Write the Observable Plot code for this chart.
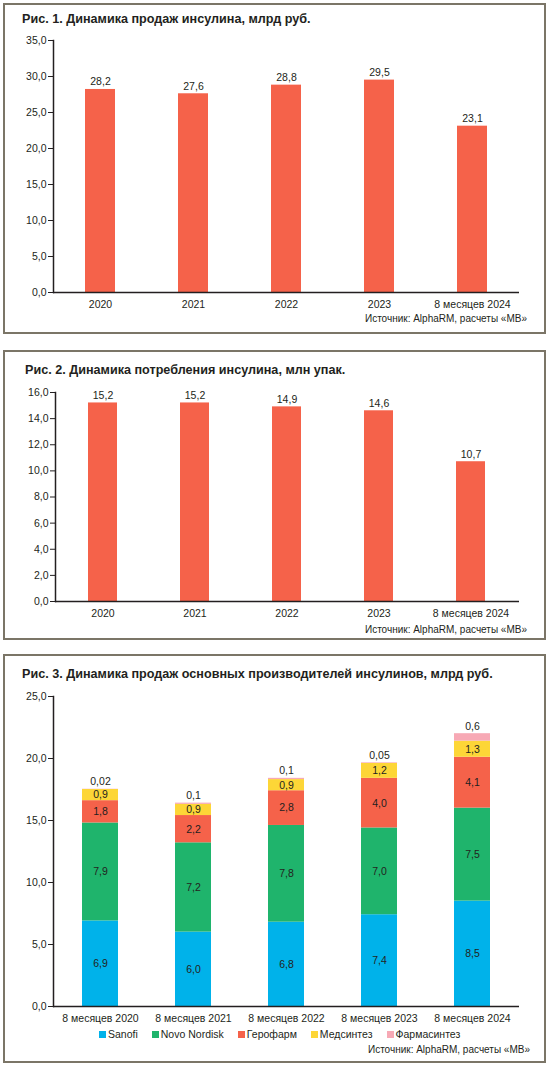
<!DOCTYPE html>
<html><head><meta charset="utf-8">
<script src="https://cdn.jsdelivr.net/npm/d3@7"></script>
<script src="https://cdn.jsdelivr.net/npm/@observablehq/plot@0.6"></script>
<style>
body{margin:0;background:#fff;font-family:"Liberation Sans",Arial,sans-serif;color:#231f20}
#root{position:relative;width:550px;height:1066px;overflow:hidden;background:#fff}
.panel{position:absolute;box-sizing:border-box;border:2px solid #7b7567;background:#fff}
.title{position:absolute;font-weight:bold;font-size:13px;white-space:nowrap;line-height:1;color:#231f20}
.src{position:absolute;font-size:10px;white-space:nowrap;line-height:1;color:#231f20}
.chart{position:absolute;left:0}
.legend{position:absolute;display:flex;align-items:center;font-size:10.5px;line-height:1;white-space:nowrap;color:#231f20}
.legend .item{display:flex;align-items:center;margin-right:14px}
.legend .sw{width:7px;height:7px;margin-right:2px}
</style></head><body><div id="root"></div>
<script>
// ---- data ----
const years = ["2020", "2021", "2022", "2023", "8 месяцев 2024"];
const salesValues = [28.2, 27.6, 28.8, 29.5, 23.1];
const consumptionValues = [15.2, 15.2, 14.9, 14.6, 10.7];
const salesTicks = [0, 5, 10, 15, 20, 25, 30, 35];
const consumptionTicks = [0, 2, 4, 6, 8, 10, 12, 14, 16];
const periods = ["8 месяцев 2020", "8 месяцев 2021", "8 месяцев 2022", "8 месяцев 2023", "8 месяцев 2024"];
const makers = ["Sanofi", "Novo Nordisk", "Герофарм", "Медсинтез", "Фармасинтез"];
const sanofi = [6.9, 6.0, 6.8, 7.4, 8.5];
const novoNordisk = [7.9, 7.2, 7.8, 7.0, 7.5];
const gerofarm = [1.8, 2.2, 2.8, 4.0, 4.1];
const medsintez = [0.9, 0.9, 0.9, 1.2, 1.3];
const farmasintez = [0.02, 0.1, 0.1, 0.05, 0.6];
const makerTicks = [0, 5, 10, 15, 20, 25];
const titles = [
  "Рис. 1. Динамика продаж инсулина, млрд руб.",
  "Рис. 2. Динамика потребления инсулина, млн упак.",
  "Рис. 3. Динамика продаж основных производителей инсулинов, млрд руб."
];
const sourceText = "Источник: AlphaRM, расчеты «МВ»";

// ---- styles ----
const barColor = "#f5624a";
const makerColors = ["#00b2ea", "#1fb46c", "#f5624a", "#fdd637", "#f7a9b5"];
const ink = "#231f20";
const font = "'Liberation Sans', Arial, sans-serif";

const ru = d3.formatLocale({decimal: ",", thousands: " ", grouping: [3], currency: ["", ""]});
const f1 = ru.format(".1f");
const fRaw = v => String(v).replace(".", ",");

const root = document.getElementById("root");
function el(tag, cls, css, text) {
  const e = document.createElement(tag);
  if (cls) e.className = cls;
  Object.assign(e.style, css || {});
  if (text != null) e.textContent = text;
  root.appendChild(e);
  return e;
}

// panels
el("div", "panel", {left: "3px", top: "3px", width: "543px", height: "331px"});
el("div", "panel", {left: "3px", top: "350px", width: "543px", height: "290px"});
el("div", "panel", {left: "3px", top: "654px", width: "543px", height: "409px"});

// fit title font size so title 3 spans its measured width
const cv = document.createElement("canvas").getContext("2d");
cv.font = "bold 13px " + font;
const tSize = 13 * 471 / cv.measureText(titles[2]).width;
el("div", "title", {left: "22px", top: "13px", fontSize: tSize + "px"}, titles[0]);
el("div", "title", {left: "25px", top: "364px", fontSize: tSize + "px"}, titles[1]);
el("div", "title", {left: "22px", top: "668px", fontSize: tSize + "px"}, titles[2]);

const styleObj = {fontFamily: font, fontSize: "10.5px", color: ink, background: "transparent", overflow: "visible"};

function simpleBars(values, ticks, top, height, mt, mb, ml) {
  const data = years.map((y, i) => ({year: y, value: values[i]}));
  const p = Plot.plot({
    width: 550, height, marginTop: mt, marginBottom: mb, marginLeft: ml, marginRight: 31,
    style: styleObj,
    x: {domain: years, paddingInner: 0.68, paddingOuter: 0.34, label: null},
    y: {domain: [ticks[0], ticks[ticks.length - 1]], label: null},
    marks: [
      Plot.barY(data, {x: "year", y: "value", fill: barColor}),
      Plot.text(data, {x: "year", y: "value", text: d => f1(d.value), lineAnchor: "bottom", dy: -4, fill: ink, fontSize: 10.5}),
      Plot.axisY({ticks, tickFormat: f1, tickSize: 5, tickPadding: 2, stroke: ink, fill: ink}),
      Plot.axisX({tickSize: 0, tickPadding: 8, fill: ink}),
      Plot.frame({anchor: "left", stroke: ink, strokeWidth: 1.5}),
      Plot.ruleY([0], {stroke: ink, strokeWidth: 1.5})
    ]
  });
  p.classList.add("chart");
  p.style.top = top + "px";
  root.appendChild(p);
}

simpleBars(salesValues, salesTicks, 0, 316, 40, 24, 53);
el("div", "src", {right: "23px", top: "314px"}, sourceText);

simpleBars(consumptionValues, consumptionTicks, 350, 275, 42, 24, 55);
el("div", "src", {right: "23px", top: "625px"}, sourceText);

// stacked chart
const series = [sanofi, novoNordisk, gerofarm, medsintez, farmasintez];
const long = [];
periods.forEach((p, i) => makers.forEach((m, j) => long.push({period: p, maker: m, value: series[j][i]})));
const inner = long.filter(d => d.maker !== "Фармасинтез");
const tops = periods.map((p, i) => ({period: p, total: d3.sum(series, s => s[i]), last: farmasintez[i]}));

const p3 = Plot.plot({
  width: 550, height: 374, marginTop: 42, marginBottom: 22, marginLeft: 53, marginRight: 31,
  style: styleObj,
  x: {domain: periods, paddingInner: 0.61, paddingOuter: 0.305, label: null},
  y: {domain: [0, 25], label: null},
  color: {domain: makers, range: makerColors},
  marks: [
    Plot.barY(long, {x: "period", y: "value", fill: "maker", z: "maker", order: makers}),
    Plot.text(inner, Plot.stackY({x: "period", y: "value", z: "maker", text: d => f1(d.value), fill: ink, fontSize: 10.5, order: makers})),
    Plot.text(tops, {x: "period", y: "total", text: d => fRaw(d.last), lineAnchor: "bottom", dy: -4, fill: ink, fontSize: 10.5}),
    Plot.axisY({ticks: makerTicks, tickFormat: f1, tickSize: 5, tickPadding: 2, stroke: ink, fill: ink}),
    Plot.axisX({tickSize: 0, tickPadding: 8, fill: ink}),
    Plot.frame({anchor: "left", stroke: ink, strokeWidth: 1.5}),
    Plot.ruleY([0], {stroke: ink, strokeWidth: 1.5})
  ]
});
p3.classList.add("chart");
p3.style.top = "654px";
root.appendChild(p3);

// legend
const lg = el("div", "legend", {left: "99px", top: "1029px"});
makers.forEach((m, i) => {
  const it = document.createElement("div"); it.className = "item";
  const sw = document.createElement("div"); sw.className = "sw"; sw.style.background = makerColors[i];
  const tx = document.createElement("span"); tx.textContent = m;
  it.appendChild(sw); it.appendChild(tx); lg.appendChild(it);
});
el("div", "src", {right: "20px", top: "1045px"}, sourceText);
</script></body></html>
